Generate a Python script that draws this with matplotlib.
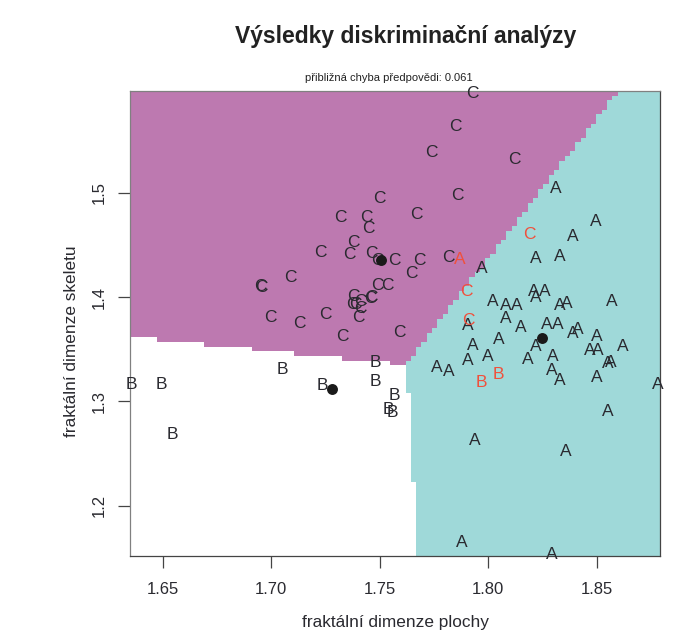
import matplotlib

matplotlib.use("Agg")
import matplotlib.pyplot as plt
import numpy as np
from matplotlib.colors import ListedColormap

plt.rcParams["font.family"] = ["Liberation Sans", "DejaVu Sans"]

# (fractal dimension of area, fractal dimension of skeleton)
a_x = [1.8311, 1.8498, 1.8389, 1.8219, 1.8328, 1.7970, 1.8210, 1.8259, 1.8219, 1.8021,
       1.8081, 1.8131, 1.8328, 1.8362, 1.8572, 1.8081, 1.8149, 1.8268, 1.8319, 1.8389,
       1.8412, 1.7907, 1.8500, 1.8469, 1.8503, 1.8621, 1.8050, 1.7930, 1.8219, 1.7907,
       1.7998, 1.8182, 1.8300, 1.7761, 1.7819, 1.8291, 1.8329, 1.8500, 1.8549, 1.8565,
       1.8783, 1.8549, 1.7939, 1.8360, 1.7879, 1.8291]
a_y = [1.5042, 1.4726, 1.4578, 1.4374, 1.4386, 1.4275, 1.4055, 1.4055, 1.3993, 1.3959,
       1.3917, 1.3917, 1.3917, 1.3942, 1.3959, 1.3796, 1.3712, 1.3738, 1.3738, 1.3648,
       1.3693, 1.3732, 1.3626, 1.3492, 1.3492, 1.3524, 1.3597, 1.3540, 1.3524, 1.3396,
       1.3428, 1.3406, 1.3428, 1.3329, 1.3284, 1.3293, 1.3204, 1.3226, 1.3364, 1.3370,
       1.3166, 1.2904, 1.2629, 1.2521, 1.1648, 1.1533]

b_x = [1.6357, 1.6495, 1.6546, 1.7050, 1.7237, 1.7480, 1.7480, 1.7567, 1.7538, 1.7560]
b_y = [1.3163, 1.3163, 1.2686, 1.3307, 1.3150, 1.3370, 1.3188, 1.3058, 1.2926, 1.2895]

c_x = [1.7498, 1.7317, 1.7437, 1.7447, 1.7378, 1.7226, 1.7360, 1.7460, 1.7489, 1.7569,
       1.7088, 1.6950, 1.6956, 1.7488, 1.7537, 1.7378, 1.7463, 1.7459, 1.7376, 1.7386,
       1.7412, 1.7409, 1.7401, 1.6998, 1.7129, 1.7249, 1.7328, 1.7589, 1.7929, 1.7850,
       1.7740, 1.8120, 1.7859, 1.7671, 1.7681, 1.7647, 1.7816]
c_y = [1.4949, 1.4767, 1.4767, 1.4655, 1.4521, 1.4431, 1.4406, 1.4419, 1.4355, 1.4348,
       1.4185, 1.4099, 1.4096, 1.4112, 1.4112, 1.4003, 1.3993, 1.3988, 1.3933, 1.3933,
       1.3955, 1.3892, 1.3805, 1.3802, 1.3751, 1.3834, 1.3619, 1.3662, 1.5953, 1.5630,
       1.5384, 1.5320, 1.4975, 1.4796, 1.4348, 1.4227, 1.4377]

# misclassified observations, drawn in red
err_labels = ["A", "C", "C", "C", "B", "B"]
err_x = [1.7870, 1.8188, 1.7899, 1.7908, 1.7970, 1.8048]
err_y = [1.4364, 1.4597, 1.4055, 1.3779, 1.3185, 1.3255]

centroid_x = [1.8248, 1.7279, 1.7505]
centroid_y = [1.3607, 1.3115, 1.4352]

# class borders as (x, y) end points
border_bc_x = [1.6349, 1.7617]
border_bc_y = [1.3616, 1.3352]
border_ac_x = [1.7617, 1.8598]
border_ac_y = [1.3348, 1.5975]
border_ab_x = [1.7624, 1.7676]
border_ab_y = [1.3348, 1.1517]

x_ticks = [1.65, 1.70, 1.75, 1.80, 1.85]
y_ticks = [1.2, 1.3, 1.4, 1.5]

xlim = (1.6349, 1.8792)
ylim = (1.1518, 1.5975)

f = plt.figure(figsize=(7, 6.43), dpi=100)
ax = f.add_axes([130 / 700, 1 - 556 / 643, 530 / 700, 465 / 643])

# partition map on a 100 x 100 grid
x_edges = np.linspace(xlim[0], xlim[1], 101)
y_edges = np.linspace(ylim[0], ylim[1], 101)
xc, yc = np.meshgrid((x_edges[:-1] + x_edges[1:]) / 2, (y_edges[:-1] + y_edges[1:]) / 2)

x_ac = border_ac_x[0] + (yc - border_ac_y[0]) * (border_ac_x[1] - border_ac_x[0]) / (border_ac_y[1] - border_ac_y[0])
x_ab = border_ab_x[0] + (yc - border_ab_y[0]) * (border_ab_x[1] - border_ab_x[0]) / (border_ab_y[1] - border_ab_y[0])
y_bc = border_bc_y[0] + (xc - border_bc_x[0]) * (border_bc_y[1] - border_bc_y[0]) / (border_bc_x[1] - border_bc_x[0])

regions = np.where(yc > y_bc, np.where(xc > x_ac, 0, 2), np.where(xc > x_ab, 0, 1))
cmap = ListedColormap(["#9fd9d9", "#ffffff", "#bd79b0"])
ax.pcolormesh(x_edges, y_edges, regions, cmap=cmap, vmin=0, vmax=2, linewidth=0, zorder=1)

text_style = dict(ha="center", va="center", fontsize=12.5, color="#2a2a30", zorder=3)
for label, xs, ys in (("A", a_x, a_y), ("B", b_x, b_y), ("C", c_x, c_y)):
    for x, y in zip(xs, ys):
        ax.text(x, y, label, **text_style)

for label, x, y in zip(err_labels, err_x, err_y):
    ax.text(x, y, label, ha="center", va="center", fontsize=12.5, color="#f0503c", zorder=3)

ax.scatter(centroid_x, centroid_y, s=62, color="#1a1a1a", linewidths=0, zorder=4)

ax.set_xlim(xlim)
ax.set_ylim(ylim)
ax.set_xticks(x_ticks, [f"{t:.2f}" for t in x_ticks])
ax.set_yticks(y_ticks, [f"{t:.1f}" for t in y_ticks], rotation=90, va="center")
ax.tick_params(axis="both", length=8.5, width=0.9, color="#444444", labelsize=12, labelcolor="#2a2a30")
ax.tick_params(axis="x", pad=10.5)
ax.tick_params(axis="y", pad=8.5)
for side, spine in ax.spines.items():
    spine.set_linewidth(0.9)
    spine.set_color("#808080" if side in ("left", "top") else "#444444")
    spine.set_zorder(2)

f.text(406 / 700, 1 - 37 / 643, "Výsledky diskriminační analýzy", ha="center", va="center",
       fontsize=16.5, fontweight="bold", color="#222222")
f.text(388.5 / 700, 1 - 78 / 643, "přibližná chyba předpovědi: 0.061", ha="center", va="center",
       fontsize=8, color="#222222")
f.text(395 / 700, 1 - 622 / 643, "fraktální dimenze plochy", ha="center", va="center",
       fontsize=12.4, color="#2a2a30")
f.text(71 / 700, 1 - 341 / 643, "fraktální dimenze skeletu", ha="center", va="center",
       rotation=90, fontsize=12.4, color="#2a2a30")

f.savefig("out.png", dpi=100)
